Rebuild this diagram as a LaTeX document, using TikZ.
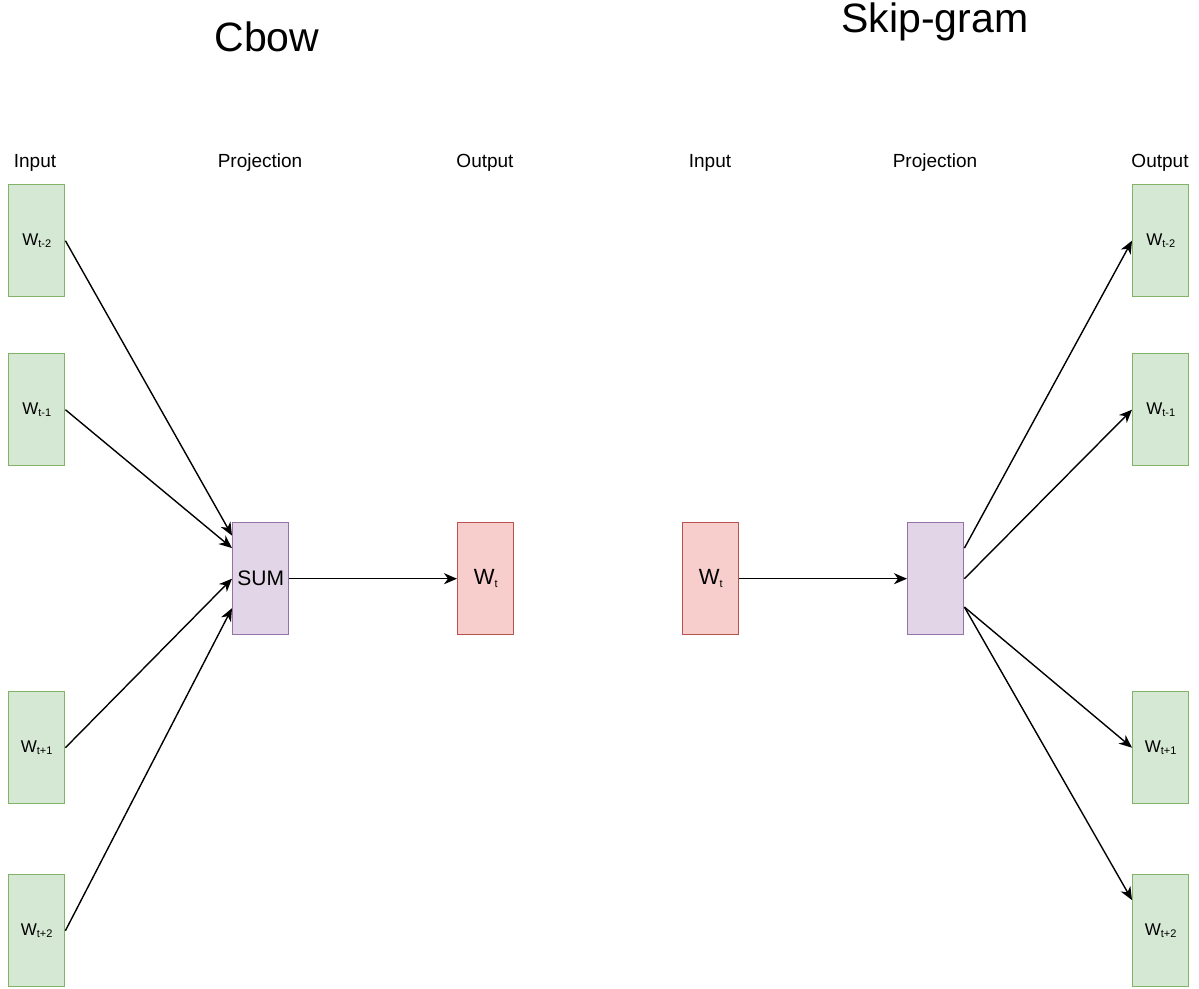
\documentclass[tikz,border=0pt]{standalone}
\usepackage{fontspec}
\setmainfont{Liberation Sans}
\usetikzlibrary{arrows.meta,calc}
\begin{document}
\begin{tikzpicture}[x=1pt,y=-1pt,
  box/.style={draw,line width=1.4pt,minimum width=56pt,minimum height=112pt,inner sep=0pt,anchor=north west},
  wordbox/.style={box,draw={rgb,255:red,130;green,179;blue,102},fill={rgb,255:red,213;green,232;blue,212},font=\fontsize{17}{20}\selectfont},
  projbox/.style={box,draw={rgb,255:red,150;green,115;blue,166},fill={rgb,255:red,225;green,213;blue,231}},
  targetbox/.style={box,draw={rgb,255:red,184;green,84;blue,80},fill={rgb,255:red,248;green,206;blue,204},font=\fontsize{22}{25}\selectfont},
  heading/.style={font=\fontsize{19}{22}\selectfont},
  title/.style={font=\fontsize{41}{46}\selectfont},
  link/.style={line width=1.4pt,-{Stealth[length=13pt,width=11pt,inset=4pt]}}]
\newcommand{\sbx}[1]{\raisebox{-0.25ex}{\fontsize{11}{13}\selectfont #1}}
\useasboundingbox (0,0) rectangle (1199,988);

% titles
\node[title] (tcbow) at (267,37) {Cbow};
\node[title] (tskip) at (935,22) {Skip-gram};

% column headings
\node[heading] (h1) at (35,163) {Input};
\node[heading] (h2) at (260,163) {Projection};
\node[heading] (h3) at (485,163) {Output};
\node[heading] (h4) at (710,163) {Input};
\node[heading] (h5) at (935,163) {Projection};
\node[heading] (h6) at (1160,163) {Output};

% CBOW
\node[wordbox] (cm2) at (8,184) {W\sbx{t-2}};
\node[wordbox] (cm1) at (8,353) {W\sbx{t-1}};
\node[wordbox] (cp1) at (8,691) {W\sbx{t+1}};
\node[wordbox] (cp2) at (8,874) {W\sbx{t+2}};
\node[projbox,font=\fontsize{21}{24}\selectfont] (sum) at (232,522) {SUM};
\node[targetbox] (cout) at (457,522) {W\sbx{t}};

\draw[link] (cm2.east) -- ($(sum.north west)!0.12!(sum.south west)$);
\draw[link] (cm1.east) -- ($(sum.north west)!0.23!(sum.south west)$);
\draw[link] (cp1.east) -- ($(sum.north west)!0.5!(sum.south west)$);
\draw[link] (cp2.east) -- ($(sum.north west)!0.76!(sum.south west)$);
\draw[link] (sum.east) -- (cout.west);

% Skip-gram
\node[targetbox] (sin) at (682,522) {W\sbx{t}};
\node[projbox] (proj) at (907,522) {};
\node[wordbox] (sm2) at (1132,184) {W\sbx{t-2}};
\node[wordbox] (sm1) at (1132,353) {W\sbx{t-1}};
\node[wordbox] (sp1) at (1132,691) {W\sbx{t+1}};
\node[wordbox] (sp2) at (1132,874) {W\sbx{t+2}};

\draw[link] (sin.east) -- (proj.west);
\draw[link] ($(proj.north east)!0.23!(proj.south east)$) -- (sm2.west);
\draw[link] (proj.east) -- (sm1.west);
\draw[link] ($(proj.north east)!0.75!(proj.south east)$) -- (sp1.west);
\draw[link] ($(proj.north east)!0.75!(proj.south east)$) -- ($(sp2.north west)!0.23!(sp2.south west)$);
\end{tikzpicture}
\end{document}
